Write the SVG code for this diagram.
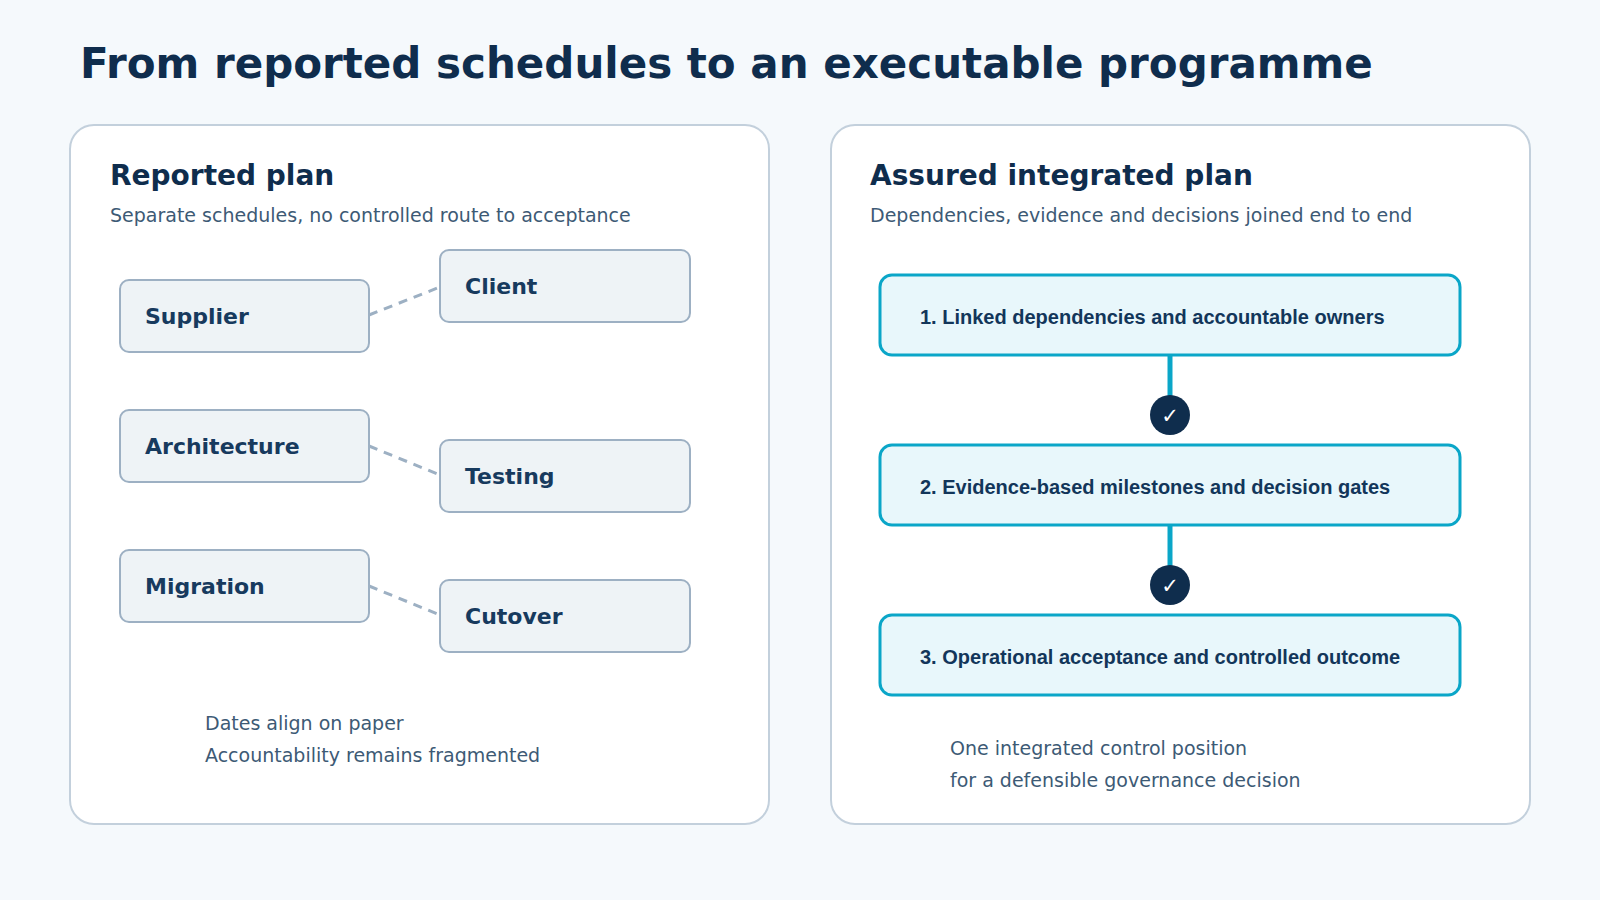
<svg xmlns="http://www.w3.org/2000/svg" width="1600" height="900" viewBox="0 0 1600 900">
<style>
.t{font-family:"DejaVu Sans",sans-serif}
.panel{fill:#fff;stroke:#c3d0dc;stroke-width:2}
.lb{fill:#eef3f6;stroke:#9db0c3;stroke-width:2}
.lt{font-family:"DejaVu Sans",sans-serif;font-weight:bold;font-size:22px;fill:#173a5e}
.rb{fill:#e8f7fb;stroke:#0aa6c8;stroke-width:3}
.rt{font-family:"Liberation Sans",Arial,sans-serif;font-weight:bold;font-size:20px;fill:#12365a}
.sub{font-family:"DejaVu Sans",sans-serif;font-size:19px;fill:#3d5a75}
.h{font-family:"DejaVu Sans",sans-serif;font-weight:bold;font-size:28px;fill:#0f2d4d}
.dash{stroke:#9db0c3;stroke-width:3;stroke-dasharray:9 7;fill:none}
</style>
<rect width="1600" height="900" fill="#f5f9fc"/>
<text x="80" y="78" class="t" font-weight="bold" font-size="42" fill="#0f2d4d">From reported schedules to an executable programme</text>
<g id="left-panel">
<rect x="70" y="125" width="699" height="699" rx="24" class="panel"/>
<text x="110" y="185" class="h">Reported plan</text>
<text x="110" y="222" class="sub">Separate schedules, no controlled route to acceptance</text>
<text x="205" y="730" class="sub">Dates align on paper</text>
<text x="205" y="762" class="sub">Accountability remains fragmented</text>
</g>
<g id="right-panel">
<rect x="831" y="125" width="699" height="699" rx="24" class="panel"/>
<text x="870" y="185" class="h">Assured integrated plan</text>
<text x="870" y="222" class="sub">Dependencies, evidence and decisions joined end to end</text>
<text x="950" y="755" class="sub">One integrated control position</text>
<text x="950" y="787" class="sub">for a defensible governance decision</text>
</g>
<g id="connectors">
<line x1="369" y1="315" x2="440" y2="287" class="dash"/>
<line x1="369" y1="446" x2="440" y2="475" class="dash"/>
<line x1="369" y1="586" x2="440" y2="615" class="dash"/>
<line x1="1170" y1="355" x2="1170" y2="400" stroke="#0aa6c8" stroke-width="5"/>
<line x1="1170" y1="525" x2="1170" y2="570" stroke="#0aa6c8" stroke-width="5"/>
</g>
<g id="supplier"><rect x="120" y="280" width="249" height="72" rx="9" class="lb"/><text x="145" y="324" class="lt">Supplier</text></g>
<g id="client"><rect x="440" y="250" width="250" height="72" rx="9" class="lb"/><text x="465" y="294" class="lt">Client</text></g>
<g id="architecture"><rect x="120" y="410" width="249" height="72" rx="9" class="lb"/><text x="145" y="454" class="lt">Architecture</text></g>
<g id="testing"><rect x="440" y="440" width="250" height="72" rx="9" class="lb"/><text x="465" y="484" class="lt">Testing</text></g>
<g id="migration"><rect x="120" y="550" width="249" height="72" rx="9" class="lb"/><text x="145" y="594" class="lt">Migration</text></g>
<g id="cutover"><rect x="440" y="580" width="250" height="72" rx="9" class="lb"/><text x="465" y="624" class="lt">Cutover</text></g>
<g id="step1"><rect x="880" y="275" width="580" height="80" rx="12" class="rb"/><text x="920" y="324" class="rt">1. Linked dependencies and accountable owners</text></g>
<g id="step2"><rect x="880" y="445" width="580" height="80" rx="12" class="rb"/><text x="920" y="494" class="rt">2. Evidence-based milestones and decision gates</text></g>
<g id="step3"><rect x="880" y="615" width="580" height="80" rx="12" class="rb"/><text x="920" y="664" class="rt">3. Operational acceptance and controlled outcome</text></g>
<g id="check1"><circle cx="1170" cy="415" r="20" fill="#0f2d4d"/><text x="1170" y="423" text-anchor="middle" class="t" font-size="21" fill="#fff">✓</text></g>
<g id="check2"><circle cx="1170" cy="585" r="20" fill="#0f2d4d"/><text x="1170" y="593" text-anchor="middle" class="t" font-size="21" fill="#fff">✓</text></g>
</svg>
